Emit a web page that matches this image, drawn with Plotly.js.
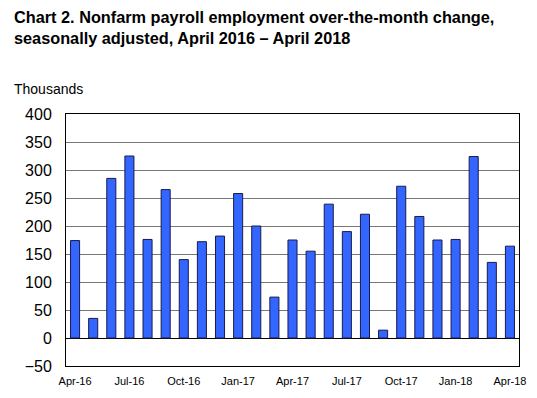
<!DOCTYPE html>
<html>
<head>
<meta charset="utf-8">
<script src="https://cdn.plot.ly/plotly-3.0.1.min.js"></script>
<style>html,body{margin:0;padding:0;background:#fff;}#chart{width:537px;height:398px;}</style>
</head>
<body>
<div id="chart"></div>
<script>
const months = ["Apr-16","May-16","Jun-16","Jul-16","Aug-16","Sep-16","Oct-16","Nov-16","Dec-16","Jan-17","Feb-17","Mar-17","Apr-17","May-17","Jun-17","Jul-17","Aug-17","Sep-17","Oct-17","Nov-17","Dec-17","Jan-18","Feb-18","Mar-18","Apr-18"];
const changes = [174, 35, 285, 325, 176, 265, 140, 172, 182, 258, 200, 73, 175, 155, 239, 190, 221, 14, 271, 217, 175, 176, 324, 135, 164];
const tickLabels = ["Apr-16","Jul-16","Oct-16","Jan-17","Apr-17","Jul-17","Oct-17","Jan-18","Apr-18"];
const yTicks = [-50, 0, 50, 100, 150, 200, 250, 300, 350, 400];

const trace = {
  type: 'bar',
  x: months,
  y: changes,
  marker: {color: '#3366ff', line: {color: '#1a1a4d', width: 1}},
  hoverinfo: 'x+y'
};

const layout = {
  width: 537, height: 398,
  margin: {l: 66, r: 18, t: 114, b: 32},
  paper_bgcolor: '#fff', plot_bgcolor: '#fff',
  font: {family: 'Liberation Sans, Arial, sans-serif', color: '#000'},
  bargap: 0.5,
  showlegend: false,
  xaxis: {
    type: 'category',
    tickmode: 'array',
    tickvals: tickLabels,
    ticktext: tickLabels,
    tickfont: {size: 11},
    ticklabelstandoff: 5,
    showgrid: false,
    showline: true, linecolor: '#000', linewidth: 1, mirror: true,
    ticks: '', ticklen: 0
  },
  yaxis: {
    range: [-50, 400],
    tickmode: 'array',
    tickvals: yTicks,
    tickfont: {size: 16},
    ticklabelstandoff: 10,
    showgrid: true, gridcolor: '#777', gridwidth: 1,
    zeroline: true, zerolinecolor: '#000', zerolinewidth: 1,
    showline: true, linecolor: '#000', linewidth: 1, mirror: true,
    ticks: '', ticklen: 0
  },
  annotations: [
    {text: '<b>Chart 2. Nonfarm payroll employment over-the-month change,<br>seasonally adjusted, April 2016 – April 2018</b>',
     xref: 'paper', yref: 'paper', x: -54/453, y: 1 + 108/252, xanchor: 'left', yanchor: 'top',
     align: 'left', showarrow: false, font: {size: 16.3, color: '#000'}},
    {text: 'Thousands', xref: 'paper', yref: 'paper', x: -54/453, y: 1 + 35/252,
     xanchor: 'left', yanchor: 'top', showarrow: false, font: {size: 14, color: '#000'}}
  ]
};

Plotly.newPlot('chart', [trace], layout, {displayModeBar: false, staticPlot: true});
</script>
</body>
</html>
